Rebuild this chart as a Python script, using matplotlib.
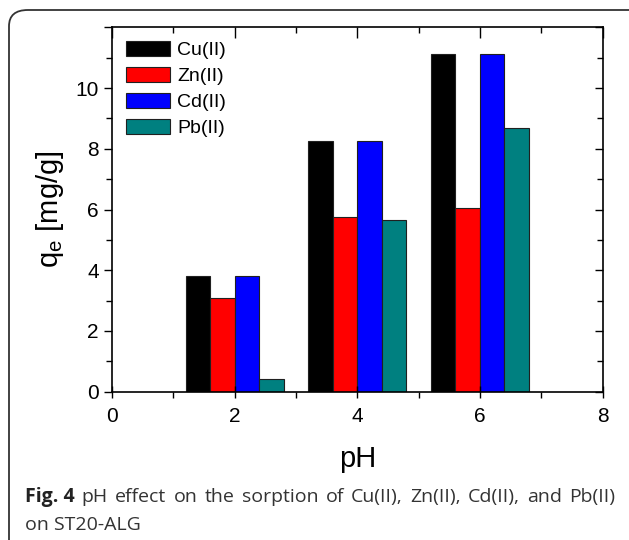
import numpy as np
import matplotlib
matplotlib.use("Agg")
import matplotlib.pyplot as plt
from matplotlib.patches import FancyBboxPatch
from matplotlib.ticker import MultipleLocator

# data
ph = np.array([2, 4, 6])
metals = ["Cu(II)", "Zn(II)", "Cd(II)", "Pb(II)"]
cu = [3.82, 8.25, 11.13]
zn = [3.10, 5.76, 6.05]
cd = [3.82, 8.25, 11.13]
pb = [0.41, 5.64, 8.68]
colors = ["#000000", "#ff0000", "#0000ff", "#008080"]
ytick_vals = [0, 2, 4, 6, 8, 10, 12]
ytick_labels = ["0", "2", "4", "6", "8", "10", ""]

plt.rcParams['font.family'] = ['Liberation Sans', 'DejaVu Sans']
plt.rcParams['mathtext.fontset'] = 'custom'
plt.rcParams['mathtext.rm'] = 'Liberation Sans'

W, H = 629, 540
fig = plt.figure(figsize=(W / 100, H / 100), dpi=100)
ax = fig.add_axes([0.178, 0.2746, 0.780, 0.6748])

w = 0.4
series = [cu, zn, cd, pb]
for i in range(4):
    ax.bar(ph + (i - 1.5) * w, series[i], width=w, color=colors[i],
           edgecolor="#202020", linewidth=0.8, label=metals[i])

ax.set_xlim(0, 8)
ax.set_ylim(0, 12)
ax.xaxis.set_major_locator(MultipleLocator(2))
ax.xaxis.set_minor_locator(MultipleLocator(1))
ax.set_yticks(ytick_vals)
ax.set_yticklabels(ytick_labels)
ax.yaxis.set_minor_locator(MultipleLocator(1))
ax.tick_params(axis='x', which='major', direction='inout', length=8, width=1, labelsize=15, pad=7)
ax.tick_params(axis='x', which='minor', direction='out', length=4, width=1)
ax.tick_params(axis='y', which='major', direction='out', length=6, width=1, labelsize=15)
ax.tick_params(axis='y', which='minor', direction='out', length=4, width=1)
ax.tick_params(which='both', top=True, right=True)
for s in ax.spines.values():
    s.set_linewidth(1.2)

# ticks on top/right point inward
for t in ax.xaxis.get_major_ticks() + ax.xaxis.get_minor_ticks():
    t.tick2line.set_marker(3)
for t in ax.yaxis.get_major_ticks() + ax.yaxis.get_minor_ticks():
    t.tick2line.set_marker(0)

ax.set_xlabel("pH", fontsize=21, labelpad=14)
ax.set_ylabel(r"q$_\mathregular{e}$ [mg/g]", fontsize=21, labelpad=7)

ax.legend(loc='upper left', frameon=False, fontsize=14, handlelength=2.3,
          handleheight=0.8, handletextpad=0.35, labelspacing=0.4,
          borderaxespad=0.3)

# rounded frame around figure and caption
box = FancyBboxPatch((9 / W, -0.2), (626 - 9) / W + 0.1, 1.2 - 10 / H,
                     boxstyle="round,pad=0,rounding_size=0.03",
                     transform=fig.transFigure, facecolor='none',
                     edgecolor='#333333', linewidth=1.3, clip_on=False)
fig.patches.append(box)

# caption, first line justified between x=25 and x=615
cap_font = ['Open Sans', 'DejaVu Sans']
cap_size = 14
words = ["Fig. 4", "pH", "effect", "on", "the", "sorption", "of",
         "Cu(II),", "Zn(II),", "Cd(II),", "and", "Pb(II)"]
fig.canvas.draw()
r = fig.canvas.get_renderer()
texts = []
for k, wd in enumerate(words):
    t = fig.text(0, 1 - 497 / H, wd, fontsize=cap_size, family=cap_font,
                 fontweight='bold' if k == 0 else 'normal',
                 color='#222222' if k == 0 else '#333333', va='center')
    texts.append(t)
widths = [t.get_window_extent(r).width for t in texts]
gap = (615 - 25 - sum(widths)) / (len(words) - 1)
x = 25
for t, wd in zip(texts, widths):
    t.set_x(x / W)
    x += wd + gap
fig.text(25 / W, 1 - 525 / H, "on ST20-ALG", fontsize=cap_size,
         family=cap_font, color='#333333', va='center')

fig.savefig("out.png", dpi=100)
